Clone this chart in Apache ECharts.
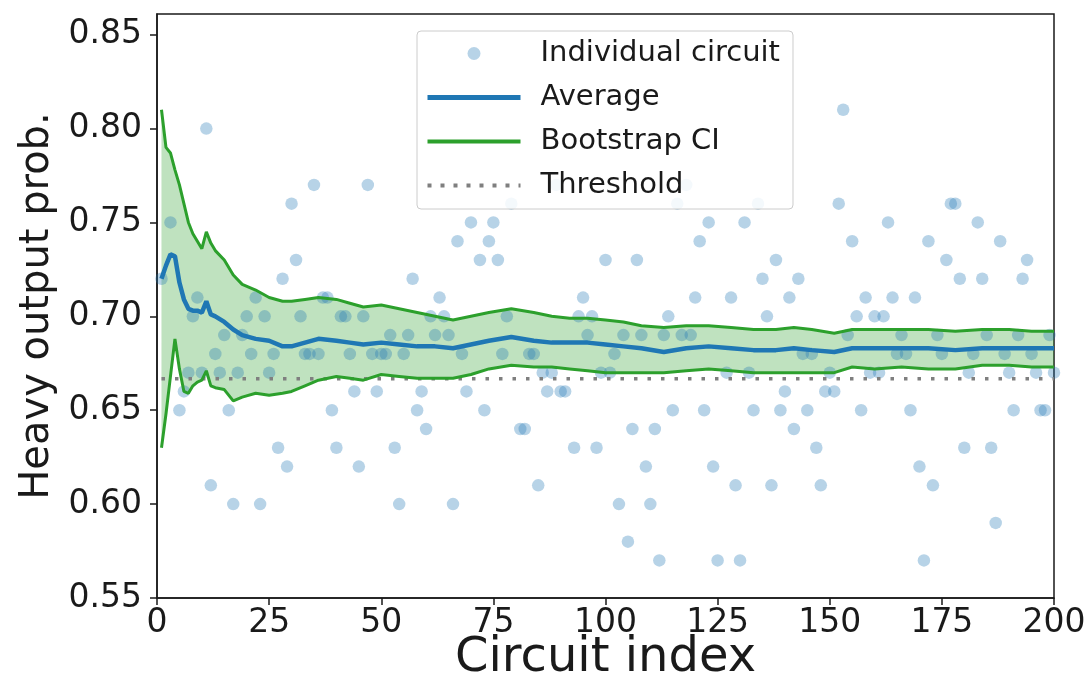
<!DOCTYPE html>
<html>
<head>
<meta charset="utf-8">
<script src="https://cdn.jsdelivr.net/npm/echarts@6/dist/echarts.min.js"></script>
<style>
  html, body { margin: 0; padding: 0; background: #fff; }
  #chart { width: 1091px; height: 696px; }
</style>
</head>
<body>
<div id="chart"></div>
<script>
// individual circuits (index, heavy output probability)
const circuitIdx = [1, 3, 5, 6, 7, 8, 9, 10, 11, 12, 13, 14, 15, 16, 17, 18, 19, 20, 21, 22, 23, 24, 25, 26, 27, 28, 29, 30,
  31, 32, 33, 34, 35, 36, 37, 38, 39, 40, 41, 42, 43, 44, 45, 46, 47, 48, 49, 50, 51, 52, 53, 54, 55, 56, 57, 58, 59, 60,
  61, 62, 63, 64, 65, 66, 67, 68, 69, 70, 72, 73, 74, 75, 76, 77, 78, 79, 81, 82, 83, 84, 85, 86, 87, 88, 89, 90,
  91, 93, 94, 95, 96, 97, 98, 99, 100, 101, 102, 103, 104, 105, 106, 107, 108, 109, 110, 111, 112, 113, 114, 115, 116, 117, 118, 119, 120,
  121, 122, 123, 124, 125, 127, 128, 129, 130, 131, 132, 133, 134, 135, 136, 137, 138, 139, 140, 141, 142, 143, 144, 145, 146, 147, 148, 149, 150,
  151, 152, 153, 154, 155, 156, 157, 158, 159, 160, 161, 162, 163, 164, 165, 166, 167, 168, 169, 170, 171, 172, 173, 174, 175, 176, 177, 178, 179, 180,
  181, 182, 183, 184, 185, 186, 187, 188, 189, 190, 191, 192, 193, 194, 195, 196, 197, 198, 199, 200];
const circuitProb = [0.72, 0.75, 0.65, 0.66, 0.67, 0.70, 0.71, 0.67, 0.80, 0.61, 0.68, 0.67, 0.69, 0.65, 0.60, 0.67, 0.69, 0.70, 0.68, 0.71, 0.60, 0.70, 0.67, 0.68, 0.63, 0.72, 0.62, 0.76,
  0.73, 0.70, 0.68, 0.68, 0.77, 0.68, 0.71, 0.71, 0.65, 0.63, 0.70, 0.70, 0.68, 0.66, 0.62, 0.70, 0.77, 0.68, 0.66, 0.68, 0.68, 0.69, 0.63, 0.60, 0.68, 0.69, 0.72, 0.65, 0.66, 0.64,
  0.70, 0.69, 0.71, 0.70, 0.69, 0.60, 0.74, 0.68, 0.66, 0.75, 0.73, 0.65, 0.74, 0.75, 0.73, 0.68, 0.70, 0.76, 0.64, 0.64, 0.68, 0.68, 0.61, 0.67, 0.66, 0.67, 0.77, 0.66,
  0.66, 0.63, 0.70, 0.71, 0.69, 0.70, 0.63, 0.67, 0.73, 0.67, 0.68, 0.60, 0.69, 0.58, 0.64, 0.73, 0.69, 0.62, 0.60, 0.64, 0.57, 0.69, 0.70, 0.65, 0.76, 0.69, 0.77, 0.69, 0.71,
  0.74, 0.65, 0.75, 0.62, 0.57, 0.67, 0.71, 0.61, 0.57, 0.75, 0.67, 0.65, 0.76, 0.72, 0.70, 0.61, 0.73, 0.65, 0.66, 0.71, 0.64, 0.72, 0.68, 0.65, 0.68, 0.63, 0.61, 0.66, 0.67,
  0.66, 0.76, 0.81, 0.69, 0.74, 0.70, 0.65, 0.71, 0.67, 0.70, 0.67, 0.70, 0.75, 0.71, 0.68, 0.69, 0.68, 0.65, 0.71, 0.62, 0.57, 0.74, 0.61, 0.69, 0.68, 0.73, 0.76, 0.76, 0.72, 0.63,
  0.67, 0.68, 0.75, 0.72, 0.69, 0.63, 0.59, 0.74, 0.68, 0.67, 0.65, 0.69, 0.72, 0.73, 0.68, 0.67, 0.65, 0.65, 0.69, 0.67];

// running average and bootstrap interval, read at these indices
const runX = [1, 2, 3, 4, 5, 6, 7, 8, 9, 10, 11, 12, 13, 15, 17, 19, 22, 25, 28, 30, 33, 36, 40, 43, 46, 50, 54, 58, 62, 66,
  70, 74, 79, 84, 88, 92, 96, 100, 104, 108, 113, 118, 123, 128, 133, 138, 142, 146, 151, 155, 160, 166, 172, 178, 184, 190, 195, 200];
const runAvg = [0.720, 0.727, 0.733, 0.732, 0.718, 0.709, 0.704, 0.703, 0.703, 0.702, 0.708, 0.701, 0.700, 0.697, 0.693, 0.690, 0.688, 0.687, 0.684, 0.684,
  0.686, 0.688, 0.687, 0.686, 0.685, 0.686, 0.685, 0.684, 0.684, 0.683, 0.685, 0.687, 0.689, 0.687, 0.686, 0.686, 0.686, 0.685, 0.684, 0.683,
  0.681, 0.683, 0.684, 0.683, 0.682, 0.682, 0.683, 0.682, 0.681, 0.683, 0.683, 0.683, 0.683, 0.682, 0.683, 0.683, 0.683, 0.683];
const ciUpper = [0.810, 0.790, 0.787, 0.778, 0.770, 0.760, 0.750, 0.744, 0.740, 0.736, 0.745, 0.739, 0.735, 0.730, 0.722, 0.717, 0.714, 0.710, 0.708, 0.708,
  0.709, 0.710, 0.709, 0.707, 0.705, 0.706, 0.704, 0.702, 0.700, 0.698, 0.700, 0.702, 0.704, 0.702, 0.700, 0.699, 0.699, 0.698, 0.697, 0.695,
  0.694, 0.695, 0.695, 0.694, 0.693, 0.693, 0.694, 0.693, 0.691, 0.693, 0.693, 0.693, 0.693, 0.692, 0.693, 0.693, 0.692, 0.692];
const ciLower = [0.630, 0.648, 0.668, 0.688, 0.672, 0.660, 0.659, 0.663, 0.665, 0.666, 0.671, 0.663, 0.662, 0.661, 0.655, 0.657, 0.659, 0.658, 0.659, 0.660,
  0.663, 0.666, 0.668, 0.667, 0.666, 0.669, 0.668, 0.667, 0.667, 0.667, 0.669, 0.672, 0.674, 0.673, 0.673, 0.672, 0.671, 0.670, 0.670, 0.670,
  0.670, 0.671, 0.672, 0.671, 0.670, 0.670, 0.670, 0.670, 0.670, 0.673, 0.672, 0.673, 0.672, 0.672, 0.674, 0.674, 0.673, 0.673];

const thresholdX = [1, 200];
const thresholdY = [0.6667, 0.6667];

const xTicks = { min: 0, max: 200, step: 25 };
const yTicks = { min: 0.55, max: 0.861, step: 0.05 };

const font = "DejaVu Sans";
const ink = "#1a1a1a";
const blue = "#1f77b4";
const green = "#2ca02c";
const grey = "#7f7f7f";

function pairs(xs, ys) {
  return xs.map((x, i) => [x, ys[i]]);
}

const chart = echarts.init(document.getElementById("chart"));

// line entries in the legend: just the stroke, no marker
const noMarker = { opacity: 0 };

const option = {
  animation: false,
  textStyle: { fontFamily: font, color: ink },
  grid: {
    left: 157, right: 37, top: 14, bottom: 98,
    show: true, borderColor: ink, borderWidth: 1.5, backgroundColor: "#fff"
  },
  legend: {
    data: [
      { name: "Individual circuit" },
      { name: "Average", itemStyle: noMarker, lineStyle: { color: blue, width: 5 } },
      { name: "Bootstrap CI", itemStyle: noMarker, lineStyle: { color: green, width: 4 } },
      { name: "Threshold", itemStyle: noMarker, lineStyle: { color: grey, width: 4, type: [4, 9] } }
    ],
    orient: "vertical",
    left: 417,
    top: 31,
    padding: [8, 13, 9, 8],
    itemWidth: 93,
    itemHeight: 13,
    itemGap: 15,
    backgroundColor: "rgba(255,255,255,0.85)",
    borderColor: "#cccccc",
    borderWidth: 1,
    borderRadius: 4,
    textStyle: { fontFamily: font, fontSize: 29, color: ink, padding: [0, 0, 0, 15] }
  },
  xAxis: {
    type: "value",
    min: xTicks.min, max: xTicks.max, interval: xTicks.step,
    name: "Circuit index",
    nameLocation: "middle",
    nameMoveOverlap: false,
    nameGap: 37,
    nameTextStyle: { fontFamily: font, fontSize: 48, color: ink },
    axisLine: { show: true, lineStyle: { color: ink, width: 1.5 } },
    axisTick: { show: true, length: 7, lineStyle: { color: ink, width: 1.5 } },
    axisLabel: { fontFamily: font, fontSize: 33, color: ink, margin: 9 },
    splitLine: { show: false }
  },
  yAxis: {
    type: "value",
    min: yTicks.min, max: yTicks.max, interval: yTicks.step,
    name: "Heavy output prob.",
    nameLocation: "middle",
    nameRotate: 90,
    nameGap: 96,
    nameTextStyle: { fontFamily: font, fontSize: 40, color: ink },
    axisLine: { show: true, lineStyle: { color: ink, width: 1.5 } },
    axisTick: { show: true, length: 7, lineStyle: { color: ink, width: 1.5 } },
    axisLabel: {
      fontFamily: font, fontSize: 33, color: ink, margin: 15, showMaxLabel: false,
      formatter: v => v.toFixed(2)
    },
    splitLine: { show: false }
  },
  series: [
    {
      name: "band",
      type: "custom",
      silent: true,
      z: 1,
      data: [[runX[0], ciUpper[0]]],
      renderItem: (params, api) => {
        const pts = [];
        runX.forEach((x, i) => pts.push(api.coord([x, ciUpper[i]])));
        for (let i = runX.length - 1; i >= 0; i--) pts.push(api.coord([runX[i], ciLower[i]]));
        return { type: "polygon", shape: { points: pts }, style: { fill: "rgba(44,160,44,0.3)" } };
      }
    },
    {
      name: "Individual circuit",
      type: "scatter",
      z: 2,
      symbolSize: 12.5,
      itemStyle: { color: "rgba(31,119,180,0.4)" },
      data: pairs(circuitIdx, circuitProb)
    },
    {
      name: "Threshold",
      type: "line",
      z: 3,
      symbol: "none",
      lineStyle: { color: grey, width: 3.5, type: [3.5, 10] },
      itemStyle: { color: grey },
      data: pairs(thresholdX, thresholdY)
    },
    {
      name: "Bootstrap CI",
      type: "line",
      z: 4,
      symbol: "none",
      lineStyle: { color: green, width: 3 },
      itemStyle: { color: green },
      data: pairs(runX, ciUpper)
    },
    {
      name: "Bootstrap CI",
      type: "line",
      z: 4,
      symbol: "none",
      lineStyle: { color: green, width: 3 },
      itemStyle: { color: green },
      data: pairs(runX, ciLower)
    },
    {
      name: "Average",
      type: "line",
      z: 5,
      symbol: "none",
      lineStyle: { color: blue, width: 4.5 },
      itemStyle: { color: blue },
      data: pairs(runX, runAvg)
    }
  ]
};

chart.setOption(option);
</script>
</body>
</html>
